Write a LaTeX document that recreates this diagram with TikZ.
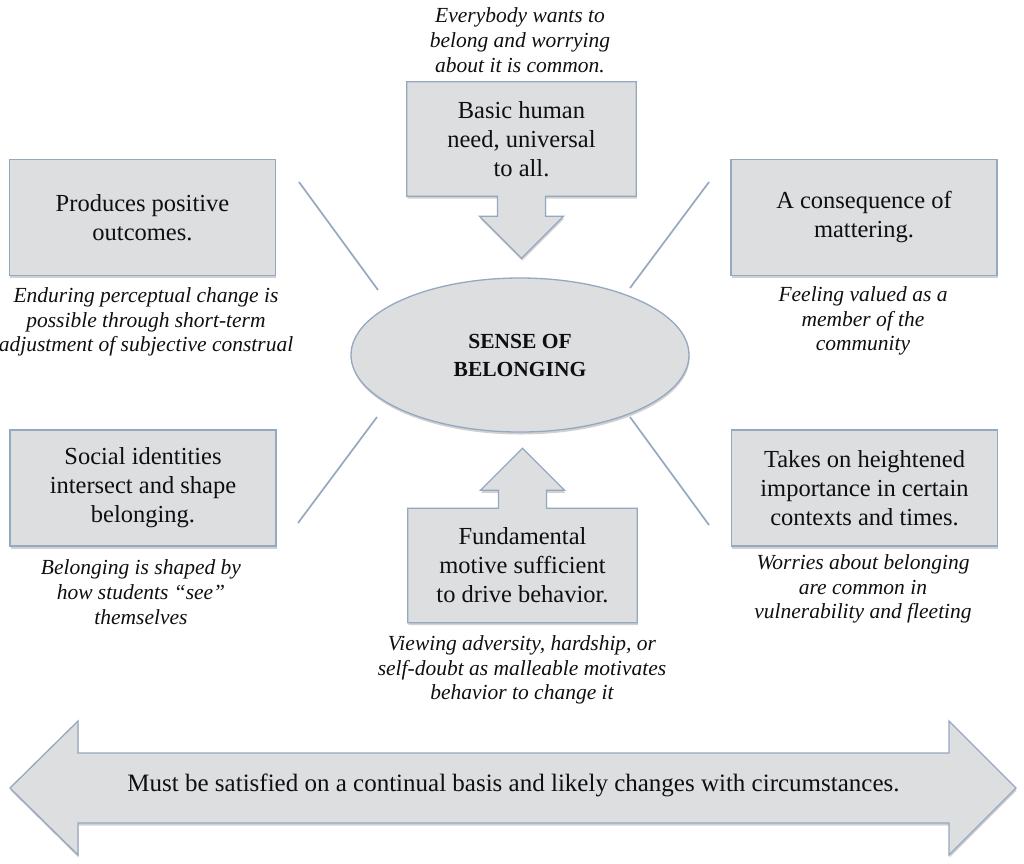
\documentclass[tikz,border=0pt]{standalone}
\usepackage{fontspec}
\setmainfont{Liberation Serif}
\usetikzlibrary{shapes.geometric,shadows,calc,backgrounds}
\definecolor{beliefgray}{RGB}{221,222,224}
\definecolor{beliefedge}{RGB}{150,168,192}
\definecolor{belieftext}{RGB}{15,15,15}
\tikzset{
    belief shadow/.style={drop shadow={shadow xshift=0.6pt,shadow yshift=-2.5pt,opacity=.3,fill=black!60}},
    belief box/.style={draw=beliefedge,fill=beliefgray,line width=1.3pt,belief shadow,
        minimum width=266pt,minimum height=116pt,inner sep=0pt,align=center,
        text=belieftext,font=\fontsize{24.5}{29}\selectfont},
    callout text/.style={minimum width=229pt,minimum height=114pt,inner sep=0pt,align=center,
        text=belieftext,font=\fontsize{24.5}{29}\selectfont},
    callout/.style={draw=beliefedge,fill=beliefgray,line width=1.3pt,line join=miter,belief shadow},
    note/.style={align=center,inner sep=0pt,text=belieftext,font=\fontsize{21.5}{24.8}\selectfont\itshape},
    spoke/.style={draw=beliefedge,line width=1.7pt},
}
\begin{document}
\begin{tikzpicture}[x=1pt,y=-1pt]
    \useasboundingbox (0,0) rectangle (1024,863);

    \node[ellipse,draw=beliefedge,fill=beliefgray,line width=1.3pt,belief shadow,
        minimum width=338pt,minimum height=154pt,align=center,text=belieftext,
        font=\fontsize{21.5}{28}\selectfont\bfseries] (core) at (520,355) {SENSE OF\\BELONGING};

    \node[callout text] (basic) at (521.5,139) {Basic human\\need, universal\\to all.};
    \node[callout text] (motive) at (522.5,565.5) {Fundamental\\motive sufficient\\to drive behavior.};
    \begin{pgfonlayer}{background}
        \draw[callout] (basic.north west) -- (basic.north east) -- (basic.south east)
            -- ($(basic.south)+(24,0)$) -- ($(basic.south)+(24,20)$) -- ($(basic.south)+(42,20)$)
            -- ($(basic.south)+(0,62)$) -- ($(basic.south)+(-42,20)$) -- ($(basic.south)+(-24,20)$)
            -- ($(basic.south)+(-24,0)$) -- (basic.south west) -- cycle;
        \draw[callout] (motive.south west) -- (motive.south east) -- (motive.north east)
            -- ($(motive.north)+(24,0)$) -- ($(motive.north)+(24,-18)$) -- ($(motive.north)+(42,-18)$)
            -- ($(motive.north)+(0,-60)$) -- ($(motive.north)+(-42,-18)$) -- ($(motive.north)+(-24,-18)$)
            -- ($(motive.north)+(-24,0)$) -- (motive.north west) -- cycle;
    \end{pgfonlayer}

    \node[belief box] (pos) at (142.5,217.5) {Produces positive\\outcomes.};
    \node[belief box] (matter) at (864,217.5) {A consequence of\\mattering.};
    \node[belief box] (social) at (143,488) {Social identities\\intersect and shape\\belonging.};
    \node[belief box] (times) at (864.5,488) {Takes on heightened\\importance in certain\\contexts and times.};

    \node[note] (basicnote) at (520,40) {Everybody wants to\\belong and worrying\\about it is common.};
    \node[note] (posnote) at (146,322) {Enduring perceptual change is\\possible through short-term\\adjustment of subjective construal};
    \node[note] (matternote) at (863,321) {Feeling valued as a\\member of the\\community};
    \node[note] (socialnote) at (141,592) {Belonging is shaped by\\how students ``see''\\themselves};
    \node[note] (timesnote) at (863,589) {Worries about belonging\\are common in\\vulnerability and fleeting};
    \node[note] (motivenote) at (522,670) {Viewing adversity, hardship, or\\self-doubt as malleable motivates\\behavior to change it};

    \coordinate (pin1) at (378,290);  \coordinate (pout1) at (299,182);
    \coordinate (pin2) at (630,288);  \coordinate (pout2) at (709,182);
    \coordinate (pin3) at (377,417);  \coordinate (pout3) at (298,523);
    \coordinate (pin4) at (630,417);  \coordinate (pout4) at (709,525);
    \foreach \i in {1,...,4}
        \draw[spoke] (pin\i) -- (pout\i);

    \coordinate (bannerL) at (10,788);
    \coordinate (bannerR) at (1016,788);
    \draw[callout] (bannerL) -- (78,721) -- (78,753) -- (949,753) -- (949,721) -- (bannerR)
        -- (949,855) -- (949,823) -- (78,823) -- (78,855) -- cycle;
    \node[text=belieftext,font=\fontsize{25}{30}\selectfont] (banner) at (513.5,785)
        {Must be satisfied on a continual basis and likely changes with circumstances.};
\end{tikzpicture}
\end{document}
